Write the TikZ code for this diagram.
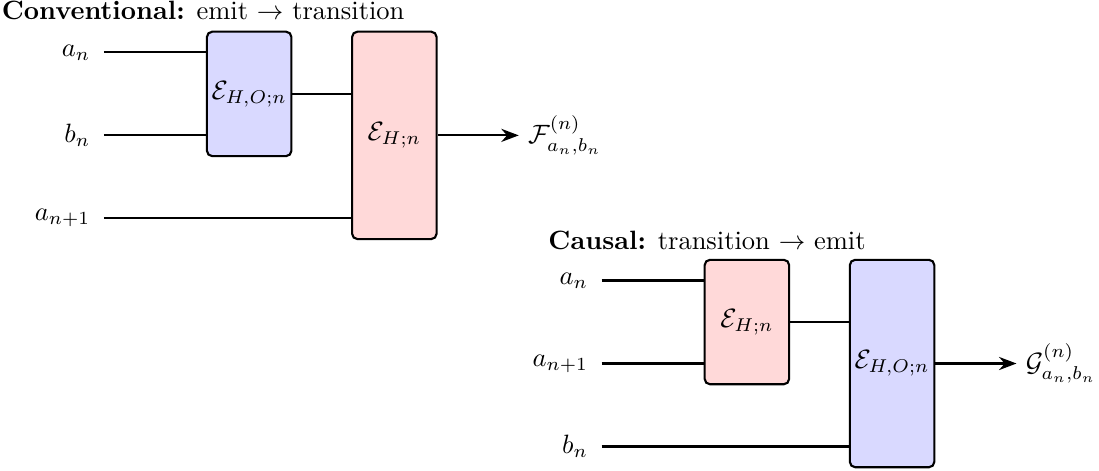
\documentclass[tikz,border=0pt]{standalone}
\usetikzlibrary{arrows.meta}
\begin{document}
\begin{tikzpicture}[>=Stealth,
  emitbox/.style={draw,thick,rounded corners=2pt,fill=blue!15,inner sep=1pt,minimum width=1.12cm,minimum height=1.65cm},
  transbox/.style={draw,thick,rounded corners=2pt,fill=red!15,inner sep=1pt,minimum width=1.12cm,minimum height=1.65cm},
  tall/.style={minimum height=2.75cm},
  inlabel/.style={anchor=east,inner sep=5pt},
  outlabel/.style={anchor=west}]
\useasboundingbox (-1.379,-5.549) rectangle (13.194,0.695);
% conventional
\node[anchor=base west,inner sep=0pt] (titleA) at (-1.36,0.431) {\textbf{Conventional:} emit $\rightarrow$ transition};
\node[inlabel] (anA) at (0,0) {$a_n$};
\node[inlabel] (bnA) at (0,-1.1) {$b_n$};
\node[inlabel] (anpA) at (0,-2.2) {$a_{n+1}$};
\node[emitbox] (emitA) at (1.925,-0.55) {$\mathcal{E}_{H,O;n}$};
\node[transbox,tall] (transA) at (3.85,-1.1) {$\mathcal{E}_{H;n}$};
\node[outlabel] (outA) at (5.5,-1.1) {$\mathcal{F}^{(n)}_{a_n,b_n}$};
\draw[thick] (anA.east) -- (anA.east -| emitA.west);
\draw[thick] (bnA.east) -- (bnA.east -| emitA.west);
\draw[thick] (anpA.east) -- (anpA.east -| transA.west);
\draw[thick] (emitA.east) -- (emitA.east -| transA.west);
\draw[thick,->] (transA.east) -- (outA.west);
% causal
\node[anchor=base west,inner sep=0pt] (titleB) at (5.887,-2.619) {\textbf{Causal:} transition $\rightarrow$ emit};
\node[inlabel] (anB) at (6.6,-3.025) {$a_n$};
\node[inlabel] (anpB) at (6.6,-4.125) {$a_{n+1}$};
\node[inlabel] (bnB) at (6.6,-5.225) {$b_n$};
\node[transbox] (transB) at (8.525,-3.575) {$\mathcal{E}_{H;n}$};
\node[emitbox,tall] (emitB) at (10.45,-4.125) {$\mathcal{E}_{H,O;n}$};
\node[outlabel] (outB) at (12.1,-4.125) {$\mathcal{G}^{(n)}_{a_n,b_n}$};
\draw[thick] (anB.east) -- (anB.east -| transB.west);
\draw[thick] (anpB.east) -- (anpB.east -| transB.west);
\draw[thick] (bnB.east) -- (bnB.east -| emitB.west);
\draw[thick] (transB.east) -- (transB.east -| emitB.west);
\draw[thick,->] (emitB.east) -- (outB.west);
\end{tikzpicture}
\end{document}
